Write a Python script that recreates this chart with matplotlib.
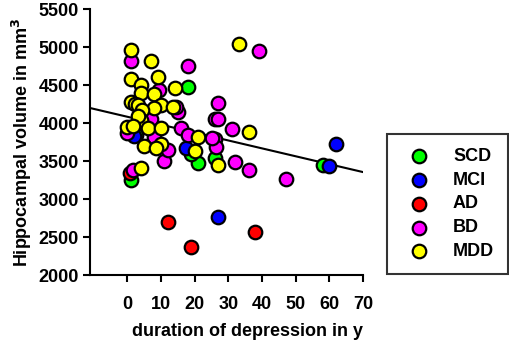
import numpy as np
import matplotlib.pyplot as plt

plt.rcParams['font.family'] = ['Liberation Sans', 'DejaVu Sans']
plt.rcParams['font.weight'] = 'bold'

# duration of depression (y) and hippocampal volume (mm3) per group
scd_x = [18, 58, 21, 1, 26, 19, 2.5]
scd_y = [4480, 3450, 3480, 3250, 3540, 3590, 3850]
mci_x = [27, 62, 60, 17.5, 2]
mci_y = [2770, 3730, 3440, 3670, 3830]
ad_x = [12, 19, 38, 0.7]
ad_y = [2700, 2370, 2565, 3340]
bd_x = [39, 18, 1, 27, 26, 27, 31, 26, 26.3, 32, 36, 47, 16, 15, 18, 11, 12, 0, 1.7, 9.5, 8, 7, 25, 14.5]
bd_y = [4955, 4760, 4825, 4260, 4060, 4050, 3920, 3790, 3690, 3485, 3385, 3260, 3940, 4150,
        3845, 3500, 3650, 3870, 3385, 4440, 3820, 4060, 3810, 4210]
mdd_x = [33, 1, 7, 1, 9, 4, 14, 4, 8, 1, 2.2, 3.2, 10, 8, 13.5, 4.2, 4, 0, 6, 10, 36, 21,
         5, 10, 8.6, 20, 4, 27, 3, 1.5]
mdd_y = [5045, 4965, 4820, 4580, 4605, 4505, 4470, 4395, 4385, 4285, 4255, 4240, 4240, 4205,
         4220, 4175, 4040, 3955, 3935, 3940, 3890, 3820, 3700, 3725, 3670, 3640, 3405, 3450,
         4100, 3960]

groups = ['SCD', 'MCI', 'AD', 'BD', 'MDD']
colors = ['#00ff00', '#0000ff', '#ff0000', '#ff00ff', '#ffff00']
xs = [scd_x, mci_x, ad_x, bd_x, mdd_x]
ys = [scd_y, mci_y, ad_y, bd_y, mdd_y]

# regression line
fit_intercept = 4085
fit_slope = -10.4

fig = plt.figure(figsize=(5.1, 3.44), dpi=100)
ax = fig.add_axes([0.176, 0.2, 0.536, 0.773])

for gx, gy, c, g in zip(xs, ys, colors, groups):
    ax.scatter(gx, gy, s=95, c=c, edgecolors='black', linewidths=1.6, label=g, zorder=3)

line_x = np.array([-11.2, 70])
ax.plot(line_x, fit_intercept + fit_slope * line_x, color='black', lw=1.5, zorder=2)

ax.set_xlim(-11.2, 70)
ax.set_ylim(2000, 5500)
ax.set_xticks(range(0, 71, 10))
ax.set_yticks(range(2000, 5501, 500))
for s in ['top', 'right']:
    ax.spines[s].set_visible(False)
for s in ['left', 'bottom']:
    ax.spines[s].set_linewidth(1.5)
ax.tick_params(direction='out', length=5, width=1.5, labelsize=13)
ax.tick_params(axis='x', pad=10)
ax.tick_params(axis='y', pad=3)
for lab in ax.get_xticklabels() + ax.get_yticklabels():
    lab.set_fontweight('bold')
ax.set_xlabel('duration of depression in y', fontsize=13, fontweight='bold')
ax.set_ylabel('Hippocampal volume in mm$^\\mathbf{3}$', fontsize=13, fontweight='bold')
ax.xaxis.set_label_coords(0.577, -0.18)
ax.yaxis.set_label_coords(-0.205, 0.5)

leg = fig.legend(loc='upper left', bbox_to_anchor=(0.759, 0.61), frameon=True, fancybox=False,
                 edgecolor='black', fontsize=13, handletextpad=0.9, borderpad=0.75,
                 labelspacing=0.38, borderaxespad=0, markerscale=1)
leg.get_frame().set_linewidth(1.5)
for t in leg.get_texts():
    t.set_fontweight('bold')

fig.savefig('out.png', dpi=100)
